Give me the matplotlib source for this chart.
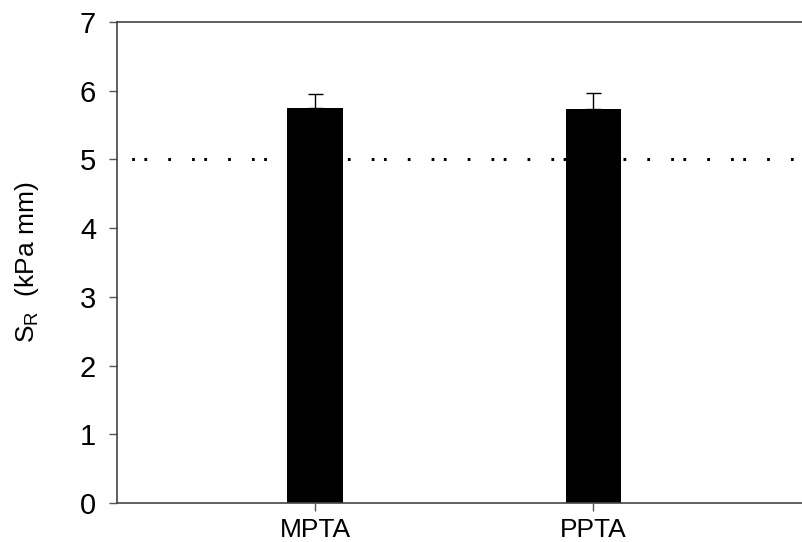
import numpy as np
import matplotlib.pyplot as plt

plt.rcParams['font.family'] = ['Liberation Sans', 'DejaVu Sans']

groups = ["MPTA", "PPTA"]
sr_mean = [5.75, 5.74]
sr_err = [0.20, 0.23]
reference_level = 5.0
yticks = [0, 1, 2, 3, 4, 5, 6, 7]

fig = plt.figure(figsize=(8.02, 5.42), dpi=100)
ax = fig.add_axes([117 / 802, 39 / 542, 685 / 802, 481 / 542])

x = np.arange(1, len(groups) + 1)

# dotted reference line, irregular dot spacing like the original
ax.axhline(reference_level, color='black', linewidth=2.2,
           linestyle=(3, (0.9, 6.9, 0.9, 3.1, 0.9, 6.9)), zorder=1)

ax.bar(x, sr_mean, width=0.2, color='black', zorder=2)
ax.errorbar(x, sr_mean, yerr=[np.zeros(len(sr_err)), sr_err], fmt='none',
            ecolor='black', elinewidth=1.0, capsize=5.4, capthick=1.0, zorder=3)

ax.set_xlim(0.288, 2.75)
ax.set_ylim(0, 7)
ax.set_xticks(x)
ax.set_xticklabels(groups, fontsize=19)
ax.set_yticks(yticks)
ax.set_yticklabels([str(t) for t in yticks], fontsize=21)
ax.set_ylabel(r'S$_\mathregular{R}$  (kPa mm)', fontsize=19, labelpad=28)

for side in ['left', 'top', 'bottom']:
    ax.spines[side].set_color('#444444')
    ax.spines[side].set_linewidth(1.2)
ax.spines['right'].set_visible(False)
ax.tick_params(axis='both', direction='out', length=6, width=1, color='#555555')
ax.tick_params(axis='x', pad=5)
ax.tick_params(axis='y', pad=9)

fig.savefig('out.png', dpi=100)
